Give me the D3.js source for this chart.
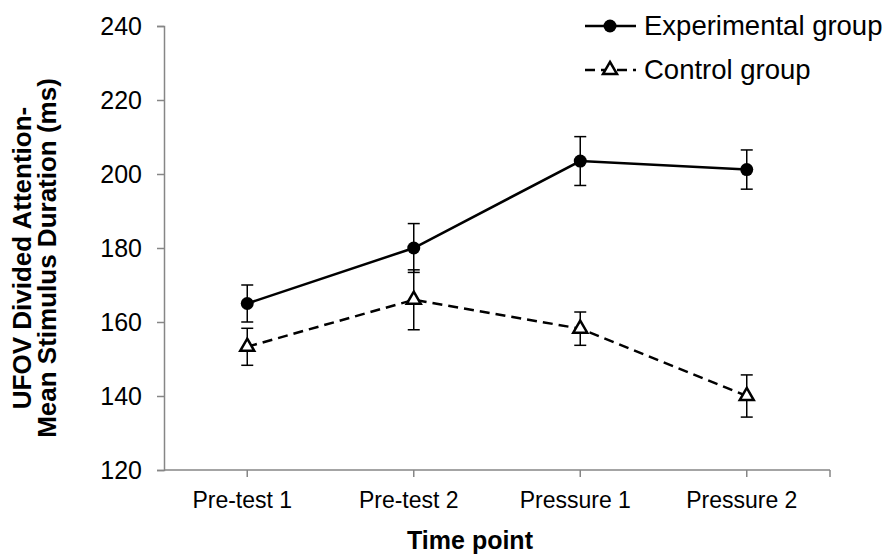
<!DOCTYPE html>
<html>
<head>
<meta charset="utf-8">
<script src="https://cdn.jsdelivr.net/npm/d3@7"></script>
<style>
  body { margin: 0; background: #fff; }
  text { font-family: "Liberation Sans", Arial, sans-serif; fill: #000; }
</style>
</head>
<body>
<svg width="896" height="557"></svg>
<script>
// values
const categories = ["Pre-test 1", "Pre-test 2", "Pressure 1", "Pressure 2"];
const expMeans = [165, 180, 203.5, 201.2];
const expErr = [5, 6.6, 6.6, 5.3];
const ctrlMeans = [153.3, 166, 158.2, 140];
const ctrlErr = [5, 8.1, 4.5, 5.7];
const yTicks = [120, 140, 160, 180, 200, 220, 240];

const svg = d3.select("svg");
const axisGrey = "#868686";

const x = d3.scaleBand().domain(categories).range([164, 830]).padding(0);
const y = d3.scaleLinear().domain([120, 240]).range([470, 26]);
const cx = d => x(d) + x.bandwidth() / 2;

// y axis
const yAxis = svg.append("g")
  .attr("transform", "translate(164,0)")
  .call(d3.axisLeft(y).tickValues(yTicks).tickSize(7).tickPadding(15));
yAxis.select(".domain").attr("stroke", axisGrey).attr("stroke-width", 1.5);
yAxis.selectAll(".tick line").attr("stroke", axisGrey).attr("stroke-width", 1.5);
yAxis.selectAll(".tick text")
  .attr("font-size", 25)
  .attr("font-family", "Liberation Sans, Arial, sans-serif")
  .attr("fill", "#000");

// x axis (ticks at category centres, plus one at the end)
const xAxis = svg.append("g").attr("transform", "translate(0,470)");
xAxis.append("line")
  .attr("x1", 164).attr("x2", 830)
  .attr("stroke", axisGrey).attr("stroke-width", 1.5);
xAxis.selectAll(".xt")
  .data(categories)
  .enter()
  .append("line")
  .attr("x1", d => cx(d)).attr("x2", d => cx(d))
  .attr("y1", 0).attr("y2", 7)
  .attr("stroke", axisGrey).attr("stroke-width", 1.5);
xAxis.append("line")
  .attr("x1", 830).attr("x2", 830)
  .attr("y1", 0).attr("y2", 7)
  .attr("stroke", axisGrey).attr("stroke-width", 1.5);
xAxis.selectAll(".xl")
  .data(categories)
  .enter()
  .append("text")
  .attr("x", d => cx(d) - 5)
  .attr("y", 38)
  .attr("text-anchor", "middle")
  .attr("font-size", 23)
  .text(d => d);

// axis titles
svg.append("text")
  .attr("x", 470)
  .attr("y", 549)
  .attr("text-anchor", "middle")
  .attr("font-size", 25)
  .attr("font-weight", "bold")
  .text("Time point");

const yTitle = svg.append("text")
  .attr("transform", "translate(0,258) rotate(-90)")
  .attr("text-anchor", "middle")
  .attr("font-size", 26)
  .attr("font-weight", "bold");
yTitle.append("tspan").attr("x", 0).attr("y", 31).text("UFOV Divided Attention-");
yTitle.append("tspan").attr("x", 0).attr("y", 56).text("Mean Stimulus Duration (ms)");

// error bars
function errorBars(means, errs) {
  const g = svg.append("g").attr("stroke", "#000").attr("stroke-width", 1.5);
  categories.forEach((c, i) => {
    const xc = cx(c);
    const top = y(means[i] + errs[i]);
    const bot = y(means[i] - errs[i]);
    g.append("line").attr("x1", xc).attr("x2", xc).attr("y1", top).attr("y2", bot);
    g.append("line").attr("x1", xc - 6).attr("x2", xc + 6).attr("y1", top).attr("y2", top);
    g.append("line").attr("x1", xc - 6).attr("x2", xc + 6).attr("y1", bot).attr("y2", bot);
  });
}
errorBars(ctrlMeans, ctrlErr);
errorBars(expMeans, expErr);

const line = d3.line().x(d => cx(d[0])).y(d => y(d[1]));

// control group: dashed line, open triangles
svg.append("path")
  .datum(categories.map((c, i) => [c, ctrlMeans[i]]))
  .attr("d", line)
  .attr("fill", "none")
  .attr("stroke", "#000")
  .attr("stroke-width", 2.5)
  .attr("stroke-dasharray", "10,6");

const tri = d3.symbol().type(d3.symbolTriangle).size(85);
svg.selectAll(".ctrl")
  .data(ctrlMeans)
  .enter()
  .append("path")
  .attr("d", tri)
  .attr("transform", (d, i) => `translate(${cx(categories[i])},${y(d)})`)
  .attr("fill", "#fff")
  .attr("stroke", "#000")
  .attr("stroke-width", 2.5);

// experimental group: solid line, filled circles
svg.append("path")
  .datum(categories.map((c, i) => [c, expMeans[i]]))
  .attr("d", line)
  .attr("fill", "none")
  .attr("stroke", "#000")
  .attr("stroke-width", 2.5);

svg.selectAll(".exp")
  .data(expMeans)
  .enter()
  .append("circle")
  .attr("cx", (d, i) => cx(categories[i]))
  .attr("cy", d => y(d))
  .attr("r", 6.5)
  .attr("fill", "#000");

// legend
const legend = svg.append("g");
legend.append("line")
  .attr("x1", 585).attr("x2", 636).attr("y1", 26).attr("y2", 26)
  .attr("stroke", "#000").attr("stroke-width", 2.5);
legend.append("circle").attr("cx", 610).attr("cy", 26).attr("r", 6.5).attr("fill", "#000");
legend.append("text").attr("x", 644).attr("y", 35).attr("font-size", 27.5).text("Experimental group");

legend.append("line")
  .attr("x1", 585).attr("x2", 636).attr("y1", 70).attr("y2", 70)
  .attr("stroke", "#000").attr("stroke-width", 2.5)
  .attr("stroke-dasharray", "10,6");
legend.append("path")
  .attr("d", tri)
  .attr("transform", "translate(610,70)")
  .attr("fill", "#fff")
  .attr("stroke", "#000")
  .attr("stroke-width", 2.5);
legend.append("text").attr("x", 644).attr("y", 79).attr("font-size", 27.5).text("Control group");
</script>
</body>
</html>
